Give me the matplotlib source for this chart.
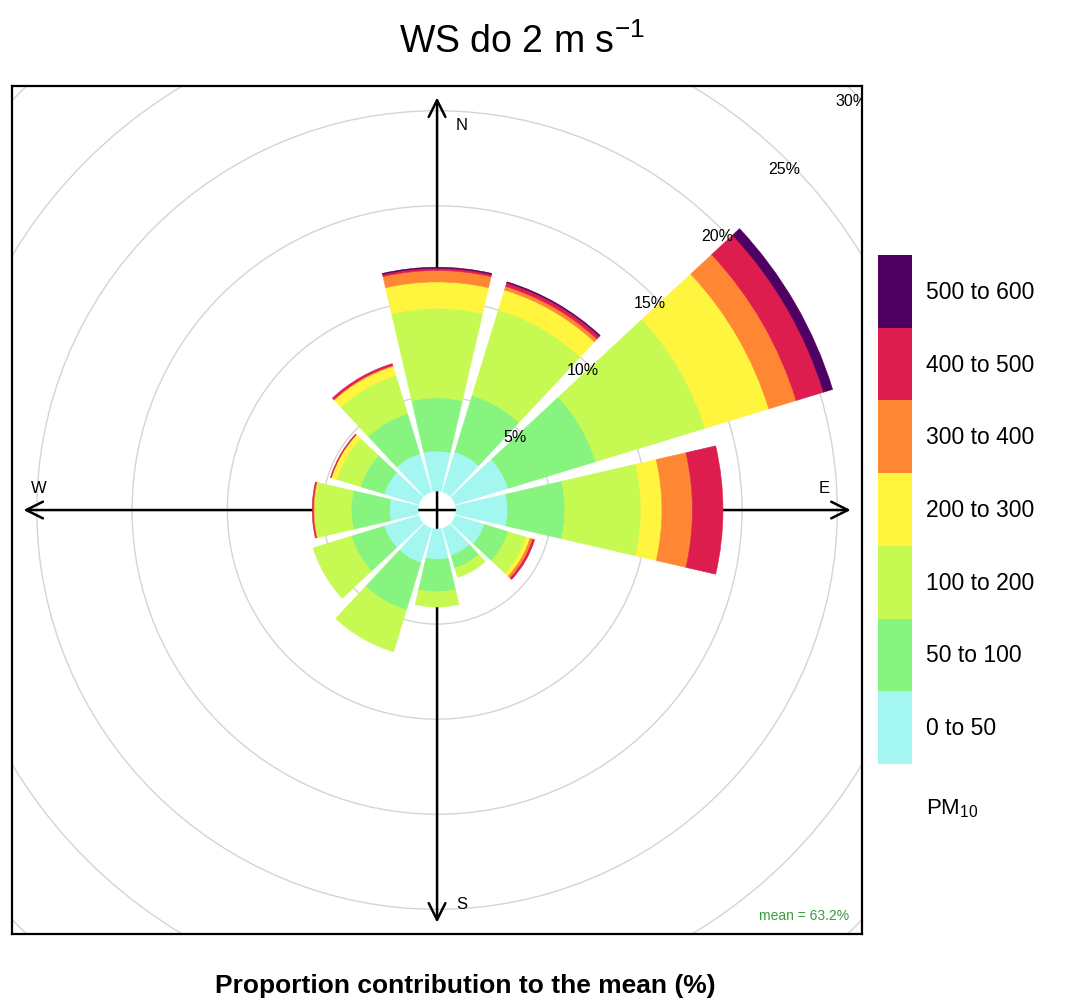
import numpy as np
import matplotlib
matplotlib.use('Agg')
from matplotlib import pyplot as plt
from matplotlib.patches import Wedge, Circle

plt.rcParams['font.family'] = ['Liberation Sans', 'DejaVu Sans']
plt.rcParams['mathtext.default'] = 'regular'

# wind direction of each sector (degrees from north, clockwise)
directions = [0, 30, 60, 90, 120, 150, 180, 210, 240, 270, 300, 330]

# contribution (%) of each PM10 class to the mean, per sector
pm_0_50    = [2.1, 2.2, 2.9, 2.7, 1.6, 1.5, 1.6, 1.9, 1.9, 1.5, 1.9, 2.1]
pm_50_100  = [2.8, 3.1, 4.8, 3.0, 1.3, 0.7, 1.7, 2.6, 1.8, 2.0, 1.3, 2.2]
pm_100_200 = [4.7, 4.7, 6.0, 4.0, 1.0, 0.5, 0.8, 2.3, 2.1, 1.9, 1.3, 2.1]
pm_200_300 = [1.4, 1.1, 3.5, 1.1, 0.2, 0.0, 0.0, 0.0, 0.0, 0.05, 0.3, 0.5]
pm_300_400 = [0.6, 0.2, 1.5, 1.6, 0.15, 0.0, 0.0, 0.0, 0.0, 0.05, 0.0, 0.05]
pm_400_500 = [0.12, 0.2, 1.5, 1.6, 0.1, 0.0, 0.0, 0.0, 0.0, 0.05, 0.05, 0.1]
pm_500_600 = [0.05, 0.05, 0.5, 0.0, 0.0, 0.0, 0.0, 0.0, 0.0, 0.0, 0.0, 0.0]

class_labels = ['0 to 50', '50 to 100', '100 to 200', '200 to 300',
                '300 to 400', '400 to 500', '500 to 600']
class_colors = ['#A4F7F0', '#86F47E', '#C6FA52', '#FFF43E',
                '#FF8733', '#DC1D4D', '#4F0063']

grid_pct = [5, 10, 15, 20, 25, 30]
mean_pct = 63.2

offset = 1.0        # radius of the empty hole in the middle
half_width = 13.0   # half angular width of a sector
lim = 22.3

bins = np.array([pm_0_50, pm_50_100, pm_100_200, pm_200_300,
                 pm_300_400, pm_400_500, pm_500_600])
cum = np.vstack([np.zeros(len(directions)), np.cumsum(bins, axis=0)])

fig = plt.figure(figsize=(10.72, 10.04), dpi=100)
ax = fig.add_axes([0.0112, 0.0687, 0.793, 0.8446])
ax.set_xlim(-lim, lim)
ax.set_ylim(-lim, lim)
ax.set_xticks([])
ax.set_yticks([])
for s in ax.spines.values():
    s.set_linewidth(1.6)

# grid circles
for p in grid_pct:
    ax.add_patch(Circle((0, 0), p + offset, fill=False, ec='#D4D4D4', lw=1.0, zorder=1))

# compass axes with open arrow heads
tip = 21.7
for dx, dy in [(0, 1), (1, 0), (0, -1), (-1, 0)]:
    ax.annotate('', xy=(dx * tip, dy * tip), xytext=(0, 0),
                arrowprops=dict(arrowstyle='->,head_length=0.6,head_width=0.3',
                                lw=1.8, color='black', shrinkA=0, shrinkB=0,
                                mutation_scale=20),
                zorder=2)

ax.text(1.3, 20.3, 'N', fontsize=12, ha='center', va='center')
ax.text(20.3, 1.2, 'E', fontsize=12, ha='center', va='center')
ax.text(1.3, -20.7, 'S', fontsize=12, ha='center', va='center')
ax.text(-20.9, 1.2, 'W', fontsize=12, ha='center', va='center')

# stacked sectors
for j, d in enumerate(directions):
    a = 90 - d
    for i in range(len(class_labels)):
        r0 = cum[i, j] + offset
        r1 = cum[i + 1, j] + offset
        if r1 - r0 <= 0:
            continue
        ax.add_patch(Wedge((0, 0), r1, a - half_width, a + half_width, width=r1 - r0,
                           fc=class_colors[i], ec=class_colors[i], lw=0.4, zorder=3))

# percentage labels along the 45 degree line
for p in grid_pct:
    r = p + offset
    ax.text(r * np.sin(np.radians(45)) - 0.15, r * np.cos(np.radians(45)) - 0.4, f'{p}%',
            fontsize=11.5, ha='center', va='center', zorder=5, clip_on=True)

ax.text(21.6, -21.3, f'mean = {mean_pct}%', color='#3A9E3A', fontsize=10,
        ha='right', va='center')

# legend key
lax = fig.add_axes([0.819, 0.238, 0.0317, 0.507])
lax.set_xlim(0, 1)
lax.set_ylim(0, len(class_labels))
for i, c in enumerate(class_colors):
    lax.bar(0.5, 1, bottom=i, width=1, color=c)
    lax.text(1.4, i + 0.5, class_labels[i], fontsize=16.5, va='center', ha='left')
lax.text(1.4, -0.6, 'PM$_{10}$', fontsize=16, va='center', ha='left')
lax.axis('off')

fig.text(0.487, 0.958, 'WS do 2 m s$^{-1}$', fontsize=27, ha='center', va='center')
fig.text(0.434, 0.018, 'Proportion contribution to the mean (%)', fontsize=19,
         fontweight='bold', ha='center', va='center')

fig.savefig('out.png', dpi=100)
